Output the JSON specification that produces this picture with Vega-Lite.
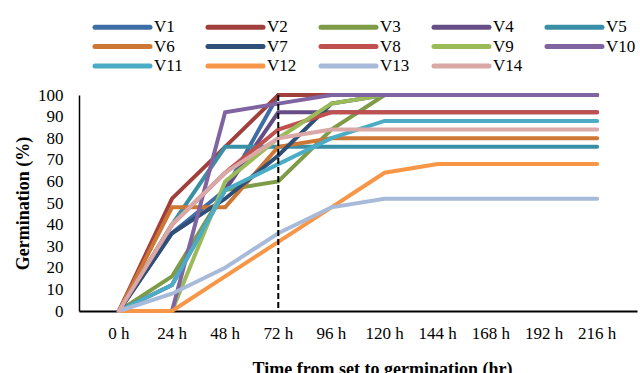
{
  "$schema": "https://vega.github.io/schema/vega-lite/v6.json",
  "autosize": {"type": "none"},
  "width": 558,
  "height": 216,
  "padding": {"left": 79, "top": 95, "right": 3, "bottom": 62},
  "background": "white",
  "config": {
    "view": {"stroke": null},
    "axis": {
      "domainColor": "black",
      "ticks": false,
      "grid": false,
      "labelFont": "Liberation Serif, Times New Roman, serif",
      "labelFontSize": 17,
      "labelColor": "black",
      "titleFont": "Liberation Serif, Times New Roman, serif",
      "titleFontSize": 18,
      "titleFontWeight": "bold",
      "titleColor": "black"
    },
    "legend": {
      "labelFont": "Liberation Serif, Times New Roman, serif",
      "labelFontSize": 17,
      "labelColor": "black"
    }
  },
  "datasets": {
    "germ": [
      {"v": "V1", "t": "0 h", "h": 0, "g": 0}, {"v": "V1", "t": "24 h", "h": 24, "g": 36}, {"v": "V1", "t": "48 h", "h": 48, "g": 56}, {"v": "V1", "t": "72 h", "h": 72, "g": 100}, {"v": "V1", "t": "96 h", "h": 96, "g": 100}, {"v": "V1", "t": "120 h", "h": 120, "g": 100}, {"v": "V1", "t": "144 h", "h": 144, "g": 100}, {"v": "V1", "t": "168 h", "h": 168, "g": 100}, {"v": "V1", "t": "192 h", "h": 192, "g": 100}, {"v": "V1", "t": "216 h", "h": 216, "g": 100},
      {"v": "V2", "t": "0 h", "h": 0, "g": 0}, {"v": "V2", "t": "24 h", "h": 24, "g": 52}, {"v": "V2", "t": "48 h", "h": 48, "g": 76}, {"v": "V2", "t": "72 h", "h": 72, "g": 100}, {"v": "V2", "t": "96 h", "h": 96, "g": 100}, {"v": "V2", "t": "120 h", "h": 120, "g": 100}, {"v": "V2", "t": "144 h", "h": 144, "g": 100}, {"v": "V2", "t": "168 h", "h": 168, "g": 100}, {"v": "V2", "t": "192 h", "h": 192, "g": 100}, {"v": "V2", "t": "216 h", "h": 216, "g": 100},
      {"v": "V3", "t": "0 h", "h": 0, "g": 0}, {"v": "V3", "t": "24 h", "h": 24, "g": 16}, {"v": "V3", "t": "48 h", "h": 48, "g": 56}, {"v": "V3", "t": "72 h", "h": 72, "g": 60}, {"v": "V3", "t": "96 h", "h": 96, "g": 84}, {"v": "V3", "t": "120 h", "h": 120, "g": 100}, {"v": "V3", "t": "144 h", "h": 144, "g": 100}, {"v": "V3", "t": "168 h", "h": 168, "g": 100}, {"v": "V3", "t": "192 h", "h": 192, "g": 100}, {"v": "V3", "t": "216 h", "h": 216, "g": 100},
      {"v": "V4", "t": "0 h", "h": 0, "g": 0}, {"v": "V4", "t": "24 h", "h": 24, "g": 12}, {"v": "V4", "t": "48 h", "h": 48, "g": 56}, {"v": "V4", "t": "72 h", "h": 72, "g": 92}, {"v": "V4", "t": "96 h", "h": 96, "g": 92}, {"v": "V4", "t": "120 h", "h": 120, "g": 92}, {"v": "V4", "t": "144 h", "h": 144, "g": 92}, {"v": "V4", "t": "168 h", "h": 168, "g": 92}, {"v": "V4", "t": "192 h", "h": 192, "g": 92}, {"v": "V4", "t": "216 h", "h": 216, "g": 92},
      {"v": "V5", "t": "0 h", "h": 0, "g": 0}, {"v": "V5", "t": "24 h", "h": 24, "g": 40}, {"v": "V5", "t": "48 h", "h": 48, "g": 76}, {"v": "V5", "t": "72 h", "h": 72, "g": 76}, {"v": "V5", "t": "96 h", "h": 96, "g": 76}, {"v": "V5", "t": "120 h", "h": 120, "g": 76}, {"v": "V5", "t": "144 h", "h": 144, "g": 76}, {"v": "V5", "t": "168 h", "h": 168, "g": 76}, {"v": "V5", "t": "192 h", "h": 192, "g": 76}, {"v": "V5", "t": "216 h", "h": 216, "g": 76},
      {"v": "V6", "t": "0 h", "h": 0, "g": 0}, {"v": "V6", "t": "24 h", "h": 24, "g": 48}, {"v": "V6", "t": "48 h", "h": 48, "g": 48}, {"v": "V6", "t": "72 h", "h": 72, "g": 76}, {"v": "V6", "t": "96 h", "h": 96, "g": 80}, {"v": "V6", "t": "120 h", "h": 120, "g": 80}, {"v": "V6", "t": "144 h", "h": 144, "g": 80}, {"v": "V6", "t": "168 h", "h": 168, "g": 80}, {"v": "V6", "t": "192 h", "h": 192, "g": 80}, {"v": "V6", "t": "216 h", "h": 216, "g": 80},
      {"v": "V7", "t": "0 h", "h": 0, "g": 0}, {"v": "V7", "t": "24 h", "h": 24, "g": 36}, {"v": "V7", "t": "48 h", "h": 48, "g": 52}, {"v": "V7", "t": "72 h", "h": 72, "g": 72}, {"v": "V7", "t": "96 h", "h": 96, "g": 96}, {"v": "V7", "t": "120 h", "h": 120, "g": 100}, {"v": "V7", "t": "144 h", "h": 144, "g": 100}, {"v": "V7", "t": "168 h", "h": 168, "g": 100}, {"v": "V7", "t": "192 h", "h": 192, "g": 100}, {"v": "V7", "t": "216 h", "h": 216, "g": 100},
      {"v": "V8", "t": "0 h", "h": 0, "g": 0}, {"v": "V8", "t": "24 h", "h": 24, "g": 40}, {"v": "V8", "t": "48 h", "h": 48, "g": 64}, {"v": "V8", "t": "72 h", "h": 72, "g": 84}, {"v": "V8", "t": "96 h", "h": 96, "g": 92}, {"v": "V8", "t": "120 h", "h": 120, "g": 92}, {"v": "V8", "t": "144 h", "h": 144, "g": 92}, {"v": "V8", "t": "168 h", "h": 168, "g": 92}, {"v": "V8", "t": "192 h", "h": 192, "g": 92}, {"v": "V8", "t": "216 h", "h": 216, "g": 92},
      {"v": "V9", "t": "0 h", "h": 0, "g": 0}, {"v": "V9", "t": "24 h", "h": 24, "g": 0}, {"v": "V9", "t": "48 h", "h": 48, "g": 60}, {"v": "V9", "t": "72 h", "h": 72, "g": 80}, {"v": "V9", "t": "96 h", "h": 96, "g": 96}, {"v": "V9", "t": "120 h", "h": 120, "g": 100}, {"v": "V9", "t": "144 h", "h": 144, "g": 100}, {"v": "V9", "t": "168 h", "h": 168, "g": 100}, {"v": "V9", "t": "192 h", "h": 192, "g": 100}, {"v": "V9", "t": "216 h", "h": 216, "g": 100},
      {"v": "V10", "t": "0 h", "h": 0, "g": 0}, {"v": "V10", "t": "24 h", "h": 24, "g": 0}, {"v": "V10", "t": "48 h", "h": 48, "g": 92}, {"v": "V10", "t": "72 h", "h": 72, "g": 96}, {"v": "V10", "t": "96 h", "h": 96, "g": 100}, {"v": "V10", "t": "120 h", "h": 120, "g": 100}, {"v": "V10", "t": "144 h", "h": 144, "g": 100}, {"v": "V10", "t": "168 h", "h": 168, "g": 100}, {"v": "V10", "t": "192 h", "h": 192, "g": 100}, {"v": "V10", "t": "216 h", "h": 216, "g": 100},
      {"v": "V11", "t": "0 h", "h": 0, "g": 0}, {"v": "V11", "t": "24 h", "h": 24, "g": 12}, {"v": "V11", "t": "48 h", "h": 48, "g": 56}, {"v": "V11", "t": "72 h", "h": 72, "g": 68}, {"v": "V11", "t": "96 h", "h": 96, "g": 80}, {"v": "V11", "t": "120 h", "h": 120, "g": 88}, {"v": "V11", "t": "144 h", "h": 144, "g": 88}, {"v": "V11", "t": "168 h", "h": 168, "g": 88}, {"v": "V11", "t": "192 h", "h": 192, "g": 88}, {"v": "V11", "t": "216 h", "h": 216, "g": 88},
      {"v": "V12", "t": "0 h", "h": 0, "g": 0}, {"v": "V12", "t": "24 h", "h": 24, "g": 0}, {"v": "V12", "t": "48 h", "h": 48, "g": 16}, {"v": "V12", "t": "72 h", "h": 72, "g": 32}, {"v": "V12", "t": "96 h", "h": 96, "g": 48}, {"v": "V12", "t": "120 h", "h": 120, "g": 64}, {"v": "V12", "t": "144 h", "h": 144, "g": 68}, {"v": "V12", "t": "168 h", "h": 168, "g": 68}, {"v": "V12", "t": "192 h", "h": 192, "g": 68}, {"v": "V12", "t": "216 h", "h": 216, "g": 68},
      {"v": "V13", "t": "0 h", "h": 0, "g": 0}, {"v": "V13", "t": "24 h", "h": 24, "g": 8}, {"v": "V13", "t": "48 h", "h": 48, "g": 20}, {"v": "V13", "t": "72 h", "h": 72, "g": 36}, {"v": "V13", "t": "96 h", "h": 96, "g": 48}, {"v": "V13", "t": "120 h", "h": 120, "g": 52}, {"v": "V13", "t": "144 h", "h": 144, "g": 52}, {"v": "V13", "t": "168 h", "h": 168, "g": 52}, {"v": "V13", "t": "192 h", "h": 192, "g": 52}, {"v": "V13", "t": "216 h", "h": 216, "g": 52},
      {"v": "V14", "t": "0 h", "h": 0, "g": 0}, {"v": "V14", "t": "24 h", "h": 24, "g": 40}, {"v": "V14", "t": "48 h", "h": 48, "g": 64}, {"v": "V14", "t": "72 h", "h": 72, "g": 80}, {"v": "V14", "t": "96 h", "h": 96, "g": 84}, {"v": "V14", "t": "120 h", "h": 120, "g": 84}, {"v": "V14", "t": "144 h", "h": 144, "g": 84}, {"v": "V14", "t": "168 h", "h": 168, "g": 84}, {"v": "V14", "t": "192 h", "h": 192, "g": 84}, {"v": "V14", "t": "216 h", "h": 216, "g": 84}
    ],
    "marker": [{"t": "72 h"}]
  },
  "layer": [
    {
      "data": {"name": "germ"},
      "mark": {"type": "line", "strokeWidth": 4, "strokeCap": "round", "strokeJoin": "miter"},
      "encoding": {
        "x": {
          "field": "t", "type": "ordinal",
          "scale": {"domain": ["0 h", "24 h", "48 h", "72 h", "96 h", "120 h", "144 h", "168 h", "192 h", "216 h"], "padding": 0.5},
          "axis": {
            "labelAngle": 0, "labelPadding": 14, "domainWidth": 2,
            "title": "Time from set to germination (hr)",
            "titleX": 303, "titleY": 49, "titleAlign": "center", "titleBaseline": "top"
          }
        },
        "y": {
          "field": "g", "type": "quantitative",
          "scale": {"domain": [0, 100], "nice": false},
          "axis": {
            "values": [0, 10, 20, 30, 40, 50, 60, 70, 80, 90, 100],
            "labelPadding": 16, "domainWidth": 1.5,
            "title": "Germination (%)",
            "titleX": -56, "titleY": 108, "titleAngle": -90, "titleAlign": "center", "titleBaseline": "middle"
          }
        },
        "color": {
          "field": "v", "type": "nominal",
          "scale": {
            "domain": ["V1", "V2", "V3", "V4", "V5", "V6", "V7", "V8", "V9", "V10", "V11", "V12", "V13", "V14"],
            "range": ["#3F6DA6", "#A13F3C", "#7E9B47", "#664D85", "#3990A6", "#CD7734", "#2D4F78", "#C0504D", "#9BBB59", "#8064A2", "#4BACC6", "#F79646", "#A8BAD9", "#D9A8A7"]
          },
          "legend": {
            "title": null,
            "orient": "none",
            "legendX": 16,
            "legendY": -76.5,
            "direction": "horizontal",
            "columns": 5,
            "gridAlign": "all",
            "columnPadding": 14,
            "rowPadding": -1.5,
            "padding": 0,
            "symbolType": "M-4.583,0H4.583",
            "symbolSize": 144,
            "symbolStrokeWidth": 5,
            "symbolOffset": 19,
            "labelOffset": 23,
            "labelBaseline": "middle",
            "encode": {"symbols": {"update": {"strokeCap": {"value": "round"}}}}
          }
        },
        "order": {"field": "h", "type": "quantitative"}
      }
    },
    {
      "data": {"name": "marker"},
      "mark": {"type": "rule", "color": "black", "strokeWidth": 2, "strokeDash": [6, 3]},
      "encoding": {
        "x": {"field": "t", "type": "ordinal"}
      }
    }
  ]
}
